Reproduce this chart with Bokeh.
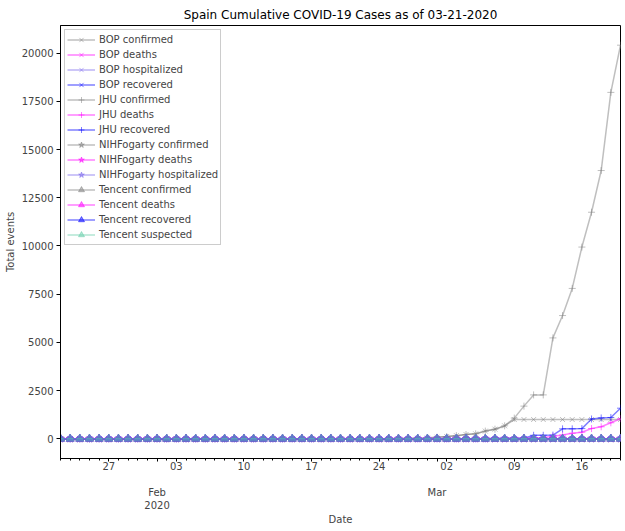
import pandas as pd
from bokeh.plotting import figure
from bokeh.models import (Range1d, LinearAxis, FixedTicker, CustomJSTickFormatter,
                          Legend, LegendItem, Title)
from bokeh.embed import file_html
from bokeh.resources import INLINE

# ---------------- data ----------------
dates = pd.date_range("2020-01-22", "2020-03-20", freq="D")
N = len(dates)

jhu_confirmed = [0, 0, 0, 0, 0, 0, 0, 0, 0, 0,
                 1, 1, 1, 1, 1, 1, 1, 1,
                 2, 2, 2, 2, 2, 2, 2, 2, 2, 2, 2, 2, 2, 2, 2, 2,
                 6, 13, 15, 32, 45,
                 84, 120, 165, 222, 259, 400, 500, 673, 1073, 1695, 2277, 2277,
                 5232, 6391, 7798, 9942, 11748, 13910, 17963, 20410]
jhu_deaths = [0] * 41 + [1, 2, 3, 5, 10, 17, 28, 35, 54, 55, 133, 195, 289, 342,
                         533, 623, 830, 1043]
jhu_recovered = [0] * 24 + [2] * 21 + [30, 30, 32, 32, 183, 183, 193, 517, 517,
                                       530, 1028, 1081, 1107, 1588]
bop_confirmed = [0, 0, 0, 0, 0, 0, 0, 0, 0, 0,
                 1, 1, 1, 1, 1, 1, 1, 1,
                 2, 2, 2, 2, 2, 2, 2, 2, 2, 2, 2, 2, 2, 2, 2, 2,
                 6, 13, 15, 32, 45,
                 84, 120, 165, 222, 259, 400, 500, 673,
                 1000, 1000, 1000, 1000, 1000, 1000, 1000, 1000, 1000, 1000, 1000, 1000]
bop_deaths = [0] * N
bop_hospitalized = [0] * N
bop_recovered = [0] * N
nih_confirmed = [0] * N
nih_deaths = [0] * N
nih_hospitalized = [0] * N
tencent_confirmed = [0] * N
tencent_deaths = [0] * N
tencent_recovered = [0] * N
tencent_suspected = [0] * N

series = [
    ("BOP confirmed", bop_confirmed, "gray", "x"),
    ("BOP deaths", bop_deaths, "magenta", "x"),
    ("BOP hospitalized", bop_hospitalized, "mediumslateblue", "x"),
    ("BOP recovered", bop_recovered, "blue", "x"),
    ("JHU confirmed", jhu_confirmed, "gray", "cross"),
    ("JHU deaths", jhu_deaths, "magenta", "cross"),
    ("JHU recovered", jhu_recovered, "blue", "cross"),
    ("NIHFogarty confirmed", nih_confirmed, "gray", "star"),
    ("NIHFogarty deaths", nih_deaths, "magenta", "star"),
    ("NIHFogarty hospitalized", nih_hospitalized, "mediumslateblue", "star"),
    ("Tencent confirmed", tencent_confirmed, "gray", "triangle"),
    ("Tencent deaths", tencent_deaths, "magenta", "triangle"),
    ("Tencent recovered", tencent_recovered, "blue", "triangle"),
    ("Tencent suspected", tencent_suspected, "mediumaquamarine", "triangle"),
]

title_text = "Spain Cumulative COVID-19 Cases as of 03-21-2020"
x_label = "Date"
y_label = "Total events"
y_ticks = [0, 2500, 5000, 7500, 10000, 12500, 15000, 17500, 20000]

# ---------------- plot ----------------
ms = [float(d.value // 10**6) for d in dates]
week_ticks = [float(d.value // 10**6) for d in dates if d.weekday() == 0]
month_ticks = [float(d.value // 10**6) for d in dates if d.day == 1]
year_ticks = month_ticks[:1]

ymax = max(max(s[1]) for s in series)
ymin = min(min(s[1]) for s in series)
pad = 0.05 * (ymax - ymin)

FONT = "DejaVu Sans"

p = figure(width=625, height=531, output_backend="svg", toolbar_location=None,
           x_axis_type=None,
           x_range=Range1d(ms[0], ms[-1]),
           y_range=Range1d(ymin - pad, ymax + pad))
p.min_border_left = 60
p.min_border_right = 5
p.min_border_top = 25
p.min_border_bottom = 73
p.grid.visible = False
p.outline_line_color = "black"
p.outline_line_alpha = 1
p.outline_line_width = 1
p.background_fill_color = "white"
p.border_fill_color = "white"

p.title.text = title_text
p.title.align = "center"
p.title.text_font = FONT
p.title.text_font_size = "12px"
p.title.text_font_style = "normal"
p.title.text_color = "black"
p.title.standoff = 8

# y axis
ya = p.yaxis[0]
ya.ticker = FixedTicker(ticks=y_ticks)
ya.axis_label = y_label
ya.axis_label_text_font = FONT
ya.axis_label_text_font_size = "10px"
ya.axis_label_text_font_style = "normal"
ya.axis_label_standoff = 3
ya.major_label_text_font = FONT
ya.major_label_text_font_size = "10px"
ya.major_tick_out = 4
ya.major_tick_in = 0
ya.minor_tick_out = 0
ya.minor_tick_in = 0
ya.major_label_standoff = 3
ya.axis_line_color = "black"


def bare_axis(ticks, code, standoff):
    ax = LinearAxis(ticker=FixedTicker(ticks=ticks, minor_ticks=[]),
                    formatter=CustomJSTickFormatter(code=code))
    ax.axis_line_color = None
    ax.major_tick_line_color = None
    ax.minor_tick_line_color = None
    ax.major_tick_out = 0
    ax.major_tick_in = 0
    ax.minor_tick_out = 0
    ax.minor_tick_in = 0
    ax.major_label_standoff = standoff
    ax.major_label_text_font = FONT
    ax.major_label_text_font_size = "10px"
    return ax


# x axis: days
xa = LinearAxis(ticker=FixedTicker(ticks=sorted(week_ticks + month_ticks), minor_ticks=ms),
                formatter=CustomJSTickFormatter(code="""
                    const d = new Date(tick);
                    if (d.getUTCDate() == 1) return '';
                    return String(d.getUTCDate()).padStart(2, '0');
                """))
xa.major_label_text_font = FONT
xa.major_label_text_font_size = "10px"
xa.major_tick_out = 3
xa.major_tick_in = 0
xa.minor_tick_out = 2
xa.minor_tick_in = 0
xa.major_label_standoff = 0
p.add_layout(xa, "below")

# x axis: months
xm = bare_axis(month_ticks, """
    const names = ['Jan','Feb','Mar','Apr','May','Jun','Jul','Aug','Sep','Oct','Nov','Dec'];
    return names[new Date(tick).getUTCMonth()];
""", 14)
p.add_layout(xm, "below")

# x axis: year
xy = bare_axis(year_ticks, "return String(new Date(tick).getUTCFullYear());", 0)
p.add_layout(xy, "below")

# x axis title
xt = Title(text=x_label, align="center", text_font=FONT, text_font_size="10px",
           text_font_style="normal", standoff=0, offset=0)
p.add_layout(xt, "below")

items = []
for label, vals, color, marker in series:
    lr = p.line(ms, vals, line_color=color, line_alpha=0.5, line_width=1.5)
    size = 7 if marker in ("x", "cross") else 8
    sr = p.scatter(ms, vals, marker=marker, size=size, line_color=color, fill_color=color,
                   line_alpha=0.5, fill_alpha=0.5, line_width=1)
    items.append(LegendItem(label=label, renderers=[lr, sr]))

legend = Legend(items=items, location="top_left")
legend.margin = 4
legend.padding = 2
legend.spacing = 0
legend.label_height = 15
legend.glyph_height = 15
legend.glyph_width = 28
legend.label_standoff = 4
legend.label_text_font = FONT
legend.label_text_font_size = "10px"
legend.border_line_color = "#cccccc"
legend.border_line_alpha = 1
legend.background_fill_alpha = 0.8
p.add_layout(legend)

open("out.html", "w").write(file_html(p, INLINE))
